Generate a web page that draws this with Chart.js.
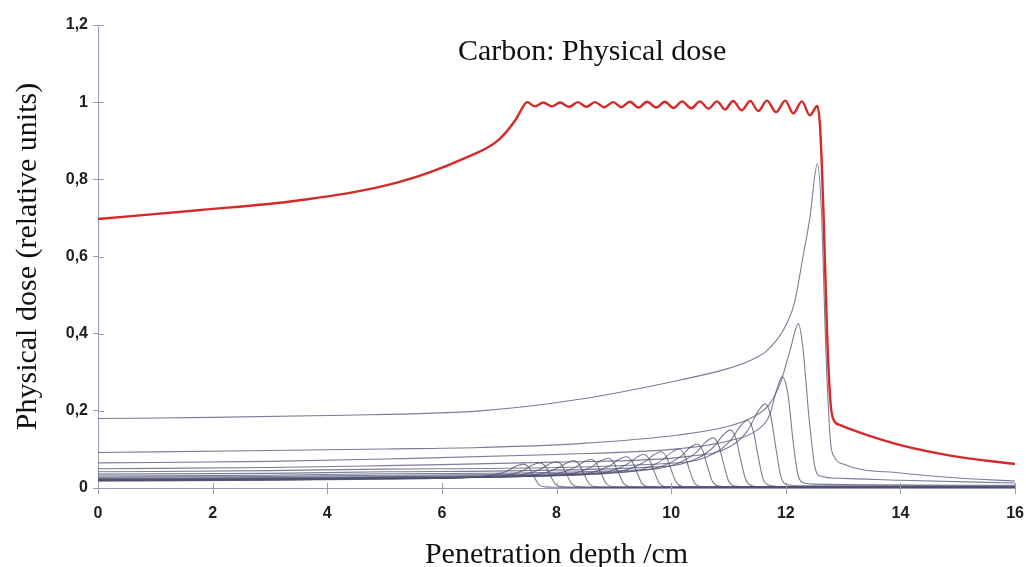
<!DOCTYPE html>
<html><head><meta charset="utf-8">
<script src="https://cdn.jsdelivr.net/npm/chart.js@4.4.1/dist/chart.umd.min.js"></script>
<style>html,body{margin:0;padding:0;background:#fff;overflow:hidden}canvas{display:block}</style>
</head><body>
<canvas id="c" width="1026" height="567"></canvas>
<script>
const chartTitle = 'Carbon: Physical dose';
const xAxisTitle = 'Penetration depth /cm';
const yAxisTitle = 'Physical dose (relative units)';
const xTickLabels = ['0','2','4','6','8','10','12','14','16'];
const yTickLabels = ['0','0,2','0,4','0,6','0,8','1','1,2'];

// Spread-out Bragg peak (sum), [depth cm, dose]
const sobpDose = [
  [0,0.697],[1.75,0.72],[3.49,0.745],[5.23,0.792],[6.4,0.855],[6.98,0.901],[7.28,0.953],[7.45,0.996],
  [7.49,1.000],[7.62,0.989],[7.77,0.999],[7.92,0.989],[8.06,0.999],[8.22,0.988],[8.37,1.000],[8.52,0.988],
  [8.67,1.000],[8.83,0.987],[8.99,1.000],[9.13,0.987],[9.28,1.001],[9.43,0.986],[9.58,1.001],[9.74,0.986],
  [9.89,1.001],[10.04,0.985],[10.19,1.002],[10.35,0.984],[10.50,1.002],[10.65,0.983],[10.80,1.002],[10.94,0.981],
  [11.08,1.003],[11.23,0.979],[11.38,1.003],[11.52,0.977],[11.67,1.004],[11.83,0.974],[11.99,1.004],[12.13,0.971],
  [12.28,1.002],[12.42,0.966],[12.55,0.990],[12.6,0.93],[12.66,0.70],[12.72,0.40],[12.78,0.22],[12.84,0.175],
  [12.95,0.163],[13.15,0.151],[13.42,0.137],[14,0.111],[14.87,0.084],[16,0.062]
];

// Individual Bragg curves, [depth cm, dose]
const bragg01 = [[0,.018],[3,.020],[5,.023],[6.3,.027],[6.82,.032],[7.12,.043],[7.30,.057],[7.42,.062],[7.52,.053],[7.60,.031],[7.69,.009],[7.80,.003],[7.97,.002],[16,.002]];
const bragg02 = [[0,.019],[3,.021],[5,.024],[6.6,.028],[7.11,.033],[7.41,.045],[7.59,.060],[7.71,.065],[7.81,.055],[7.89,.032],[7.98,.010],[8.09,.003],[8.26,.002],[16,.002]];
const bragg03 = [[0,.019],[3,.021],[5,.024],[6.9,.029],[7.4,.034],[7.7,.047],[7.88,.063],[8.0,.068],[8.1,.058],[8.18,.034],[8.27,.010],[8.38,.003],[8.55,.002],[16,.002]];
const bragg04 = [[0,.020],[3,.022],[5,.025],[7.2,.030],[7.7,.036],[8.0,.050],[8.18,.065],[8.3,.071],[8.4,.060],[8.48,.036],[8.57,.011],[8.68,.003],[8.85,.002],[16,.002]];
const bragg05 = [[0,.020],[3,.022],[5,.025],[7.5,.031],[8.0,.037],[8.3,.052],[8.48,.068],[8.6,.074],[8.7,.063],[8.78,.037],[8.87,.011],[8.98,.003],[9.15,.002],[16,.002]];
const bragg06 = [[0,.021],[3,.023],[5,.026],[7.8,.032],[8.3,.038],[8.6,.054],[8.78,.071],[8.9,.077],[9.0,.065],[9.08,.039],[9.17,.012],[9.28,.003],[9.45,.002],[16,.002]];
const bragg07 = [[0,.021],[3,.023],[5,.026],[8.1,.033],[8.62,.040],[8.92,.057],[9.10,.075],[9.22,.081],[9.32,.069],[9.40,.041],[9.49,.012],[9.60,.003],[9.77,.002],[16,.002]];
const bragg08 = [[0,.022],[3,.024],[5,.027],[8.4,.034],[8.92,.043],[9.22,.061],[9.40,.080],[9.52,.087],[9.62,.074],[9.70,.044],[9.79,.013],[9.90,.003],[10.07,.002],[16,.002]];
const bragg09 = [[0,.023],[3,.025],[5,.028],[8.7,.036],[9.22,.047],[9.52,.066],[9.70,.086],[9.82,.094],[9.92,.080],[10.0,.047],[10.09,.014],[10.2,.004],[10.37,.002],[16,.002]];
const bragg10 = [[0,.025],[3,.027],[5,.030],[9.0,.039],[9.53,.050],[9.83,.071],[10.01,.093],[10.13,.101],[10.23,.086],[10.31,.051],[10.4,.015],[10.51,.004],[10.68,.003],[16,.002]];
const bragg11 = [[0,.028],[3,.030],[5,.033],[9.3,.043],[9.85,.057],[10.15,.080],[10.33,.105],[10.45,.114],[10.55,.097],[10.63,.057],[10.72,.017],[10.83,.005],[11.0,.003],[16,.003]];
const bragg12 = [[0,.031],[3,.033],[5,.037],[9.6,.048],[10.13,.065],[10.43,.091],[10.61,.120],[10.73,.130],[10.83,.110],[10.91,.065],[11.0,.019],[11.11,.005],[11.28,.003],[16,.003]];
const bragg13 = [[0,.036],[3,.038],[5,.042],[9.9,.056],[10.43,.075],[10.73,.105],[10.91,.138],[11.03,.150],[11.13,.128],[11.21,.075],[11.3,.022],[11.41,.006],[11.58,.003],[16,.003]];
const bragg14 = [[0,.042],[3,.045],[5,.049],[10.2,.066],[10.73,.088],[11.03,.122],[11.21,.161],[11.33,.175],[11.43,.149],[11.51,.088],[11.6,.025],[11.71,.007],[11.88,.004],[16,.004]];
const bragg15 = [[0,.050],[3,.053],[5,.058],[8,.067],[10.3,.082],[11.04,.108],[11.34,.150],[11.52,.200],[11.64,.218],[11.74,.185],[11.82,.110],[11.91,.032],[12.02,.009],[12.2,.006],[16,.005]];
const bragg16 = [[0,.065],[3,.069],[5,.075],[8,.087],[10,.100],[11,.122],[11.5,.150],[11.72,.190],[11.84,.255],[11.94,.288],[12.04,.240],[12.12,.130],[12.21,.035],[12.32,.013],[12.5,.010],[16,.007]];
const bragg17 = [[0,.092],[3,.097],[5,.101],[6.67,.105],[8.4,.115],[10.16,.138],[11,.160],[11.4,.182],[11.7,.215],[11.9,.270],[12.08,.360],[12.22,.426],[12.3,.360],[12.4,.190],[12.5,.060],[12.58,.032],[13,.025],[14,.020],[16,.013]];
const bragg18 = [[0,.180],[2,.183],[4,.188],[6.67,.200],[8.4,.230],[10.16,.280],[11.0,.310],[11.4,.332],[11.67,.356],[11.95,.408],[12.15,.480],[12.3,.600],[12.42,.700],[12.55,.840],[12.62,.720],[12.7,.350],[12.78,.120],[12.85,.080],[13,.062],[14,.039],[15,.026],[16,.018]];

const braggCurves = [bragg01,bragg02,bragg03,bragg04,bragg05,bragg06,bragg07,bragg08,bragg09,
                     bragg10,bragg11,bragg12,bragg13,bragg14,bragg15,bragg16,bragg17,bragg18];

const axisColor = '#9d9bb6';
const toXY = arr => arr.map(p => ({x: p[0], y: p[1]}));

const datasets = [{
  data: toXY(sobpDose), borderColor: '#d42a2a', borderWidth: 2.4, order: 0,
  pointRadius: 0, cubicInterpolationMode: 'monotone', fill: false
}].concat(braggCurves.map(c => ({
  data: toXY(c), borderColor: 'rgba(80,80,115,0.75)', borderWidth: 1.1, order: 1,
  pointRadius: 0, cubicInterpolationMode: 'monotone', fill: false
})));

const decor = {
  id: 'decor',
  afterDraw(chart) {
    const {ctx, chartArea, scales: {x, y}} = chart;
    ctx.save();
    ctx.strokeStyle = axisColor; ctx.lineWidth = 1;
    ctx.beginPath();
    x.ticks.forEach(t => { const px = Math.round(x.getPixelForValue(t.value)) + 0.5; ctx.moveTo(px, chartArea.bottom + 6); ctx.lineTo(px, chartArea.bottom - 5); });
    y.ticks.forEach(t => { const py = Math.round(y.getPixelForValue(t.value)) + 0.5; ctx.moveTo(chartArea.left, py); ctx.lineTo(chartArea.left + 6, py); });
    ctx.stroke();
    ctx.font = '30px "Liberation Serif"';
    ctx.fillStyle = '#111'; ctx.textAlign = 'center'; ctx.textBaseline = 'middle';
    ctx.fillText(chartTitle, x.getPixelForValue(8.62), chartArea.top + 27);
    ctx.restore();
  }
};

new Chart(document.getElementById('c'), {
  type: 'line',
  data: { datasets },
  plugins: [decor],
  options: {
    responsive: false, animation: false, devicePixelRatio: 1,
    layout: { padding: { top: 25, right: 0, bottom: 0, left: 0 } },
    plugins: { legend: { display: false }, tooltip: { enabled: false } },
    scales: {
      x: {
        type: 'linear', min: 0, max: 16,
        afterFit(s) { s.height = 79; },
        ticks: { stepSize: 2, padding: 2, color: '#1e1e1e', font: { family: '"Liberation Sans", Arial', size: 16, weight: 'bold' },
                 callback: (v, i) => xTickLabels[i] },
        grid: { display: true, drawOnChartArea: false, drawTicks: true, tickLength: 14, tickColor: 'rgba(0,0,0,0)', color: axisColor },
        border: { display: true, color: axisColor, width: 1 },
        title: { display: true, text: xAxisTitle, color: '#111', padding: { top: 0, bottom: -3 },
                 font: { family: '"Liberation Serif", "Times New Roman", serif', size: 30, lineHeight: 1.0 } }
      },
      y: {
        type: 'linear', min: 0, max: 1.2,
        afterFit(s) { s.width = 98; },
        ticks: { stepSize: 0.2, padding: 5, color: '#1e1e1e', font: { family: '"Liberation Sans", Arial', size: 16, weight: 'bold' },
                 callback: (v, i) => yTickLabels[i] },
        grid: { display: true, drawOnChartArea: false, drawTicks: true, tickLength: 5, color: axisColor },
        border: { display: true, color: axisColor, width: 1 },
        title: { display: true, text: yAxisTitle, color: '#111', padding: { top: 13, bottom: 0 },
                 font: { family: '"Liberation Serif", "Times New Roman", serif', size: 30, lineHeight: 1.0 } }
      }
    }
  }
});
</script>
</body></html>
